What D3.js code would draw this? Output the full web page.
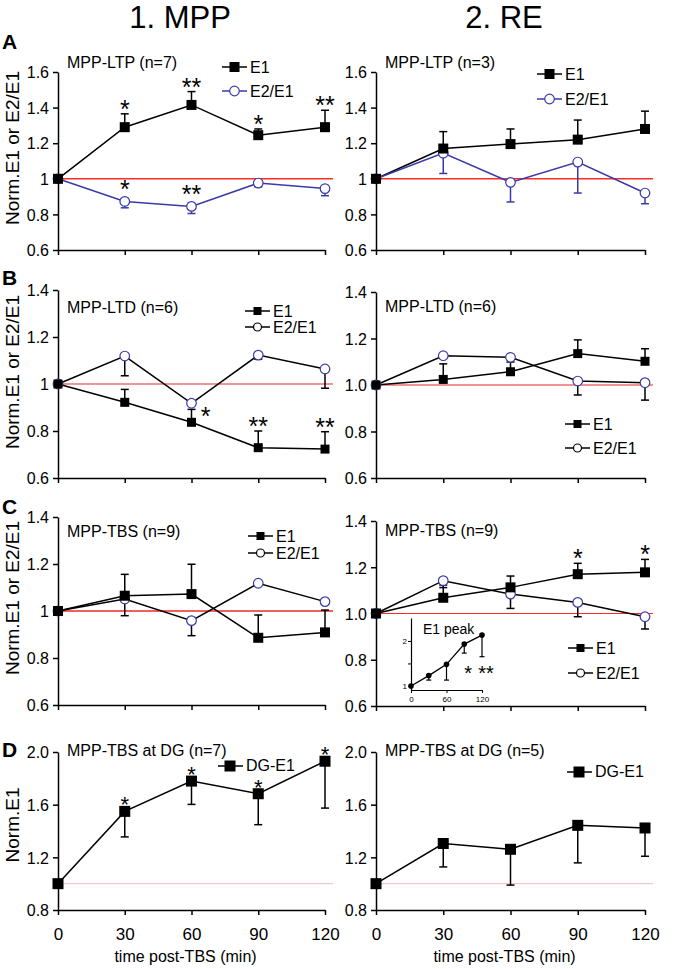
<!DOCTYPE html>
<html><head><meta charset="utf-8">
<script src="https://cdn.jsdelivr.net/npm/d3@7"></script>
<style>
body{margin:0;background:#fff}
svg{display:block}
text{font-family:"Liberation Sans",Arial,Helvetica,sans-serif;fill:#000}
</style>
</head><body>
<svg id="chart" width="685" height="969"></svg>
<script>
// ---------------- DATA ----------------
const times = [0, 30, 60, 90, 120];
const xTickLabels = ["0", "30", "60", "90", "120"];
const columnHeaders = ["1. MPP", "2. RE"];
const panelLetters = ["A", "B", "C", "D"];

// Panel A (MPP-LTP)
const A1_title = "MPP-LTP (n=7)";
const A1_E1 = [1, 1.29, 1.415, 1.245, 1.29];
const A1_E1_err = [0, 0.075, 0.075, 0.035, 0.095];
const A1_E1_sig = ["", "*", "**", "*", "**"];
const A1_E2 = [1, 0.873, 0.845, 0.976, 0.945];
const A1_E2_err = [0, 0.036, 0.04, 0.021, 0.04];
const A1_E2_sig = ["", "*", "**", "", ""];
const A2_title = "MPP-LTP (n=3)";
const A2_E1 = [1, 1.17, 1.195, 1.22, 1.28];
const A2_E1_err = [0, 0.095, 0.085, 0.11, 0.1];
const A2_E2 = [1, 1.144, 0.98, 1.094, 0.92];
const A2_E2_err = [0, 0.114, 0.11, 0.174, 0.06];
const A_yTicks = [0.6, 0.8, 1.0, 1.2, 1.4, 1.6];
const A_yTickLabels = ["0.6", "0.8", "1", "1.2", "1.4", "1.6"];

// Panel B (MPP-LTD)
const B1_title = "MPP-LTD (n=6)";
const B1_E1 = [1, 0.922, 0.837, 0.729, 0.723];
const B1_E1_err = [0, 0.055, 0.055, 0.071, 0.074];
const B1_E1_sig = ["", "", "*", "**", "**"];
const B1_E2 = [1, 1.119, 0.918, 1.123, 1.064];
const B1_E2_err = [0, 0.084, 0, 0.018, 0.082];
const B2_title = "MPP-LTD (n=6)";
const B2_E1 = [1, 1.024, 1.057, 1.135, 1.102];
const B2_E1_err = [0, 0.067, 0.059, 0.059, 0.054];
const B2_E2 = [1, 1.126, 1.119, 1.017, 1.01];
const B2_E2_err = [0, 0, 0.02, 0.06, 0.075];
const BC_yTicks = [0.6, 0.8, 1.0, 1.2, 1.4];
const BC1_yTickLabels = ["0.6", "0.8", "1", "1.2", "1.4"];
const BC2_yTickLabels = ["0.6", "0.8", "1.0", "1.2", "1.4"];

// Panel C (MPP-TBS)
const C1_title = "MPP-TBS (n=9)";
const C1_E1 = [1, 1.065, 1.072, 0.886, 0.909];
const C1_E1_err = [0, 0.091, 0.127, 0.097, 0.095];
const C1_E2 = [1, 1.051, 0.959, 1.118, 1.04];
const C1_E2_err = [0, 0.071, 0.064, 0, 0];
const C2_title = "MPP-TBS (n=9)";
const C2_E1 = [1, 1.068, 1.113, 1.17, 1.178];
const C2_E1_err = [0, 0.055, 0.049, 0.047, 0.056];
const C2_E1_sig = ["", "", "", "*", "*"];
const C2_E2 = [1, 1.142, 1.084, 1.048, 0.986];
const C2_E2_err = [0, 0.03, 0.062, 0.062, 0.053];
// inset: E1 peak
const inset_title = "E1 peak";
const inset_E1 = [1, 1.23, 1.48, 1.93, 2.13];
const inset_E1_err = [0, 0.1, 0.35, 0.2, 0.48];
const inset_sig = ["", "", "", "*", "**"];
const inset_xTicks = [0, 60, 120];
const inset_yTicks = [1, 1.5, 2];
const inset_yTickLabels = ["1", "", "2"];

// Panel D (MPP-TBS at DG)
const D1_title = "MPP-TBS at DG (n=7)";
const D1_E1 = [1, 1.549, 1.779, 1.683, 1.93];
const D1_E1_err = [0, 0.194, 0.177, 0.235, 0.356];
const D1_E1_sig = ["", "*", "*", "*", "*"];
const D2_title = "MPP-TBS at DG (n=5)";
const D2_E1 = [1, 1.305, 1.261, 1.443, 1.423];
const D2_E1_err = [0, 0.178, 0.272, 0.285, 0.215];
const D_yTicks = [0.8, 1.2, 1.6, 2.0];
const D_yTickLabels = ["0.8", "1.2", "1.6", "2.0"];

const seriesNames = ["E1", "E2/E1", "DG-E1"];
const yLabelMain = "Norm.E1 or E2/E1";
const yLabelD = "Norm.E1";
const xLabel = "time post-TBS (min)";

// ---------------- STYLE / LAYOUT ----------------
const BLUE = "#3a3aa8";
const svg = d3.select("#chart");

const LEFT = [58, 325], RIGHT = [376, 645];

const panels = [
  {xr: LEFT, dom: [0.6, 1.6], yr: [250, 72], ticks: A_yTicks, tl: A_yTickLabels, title: A1_title, tY: 68,
   ref: {c: "#ff2a2a", w: 1.4}, sq: 10,
   series: [
     {v: A1_E1, e: A1_E1_err, dir: 1, type: "sq", line: "#000", sig: A1_E1_sig},
     {v: A1_E2, e: A1_E2_err, dir: -1, type: "ci", line: BLUE, sig: A1_E2_sig}],
   legend: {x: 222, y: 67, dy: 24, blueLegend: true}},
  {xr: RIGHT, dom: [0.6, 1.6], yr: [250, 72], ticks: A_yTicks, tl: A_yTickLabels, title: A2_title, tY: 68,
   ref: {c: "#ff2a2a", w: 1.4}, sq: 10,
   series: [
     {v: A2_E1, e: A2_E1_err, dir: 1, type: "sq", line: "#000"},
     {v: A2_E2, e: A2_E2_err, dir: -1, type: "ci", line: BLUE}],
   legend: {x: 537, y: 74, dy: 25, blueLegend: true}},
  {xr: LEFT, dom: [0.6, 1.4], yr: [478, 290], ticks: BC_yTicks, tl: BC1_yTickLabels, title: B1_title, tY: 313,
   ref: {c: "#f29494", w: 2}, sq: 9,
   series: [
     {v: B1_E1, e: B1_E1_err, dir: 1, type: "sq", line: "#000", sig: B1_E1_sig, sigDx: [0, 0, 14, 0, 0], sigDy: [0, 0, 12, 0, 0]},
     {v: B1_E2, e: B1_E2_err, dir: -1, type: "ci", line: "#000"}],
   legend: {x: 245, y: 311, dy: 16, small: true}},
  {xr: RIGHT, dom: [0.6, 1.4], yr: [478, 292], ticks: BC_yTicks, tl: BC2_yTickLabels, title: B2_title, tY: 312,
   ref: {c: "#f29494", w: 2}, sq: 9,
   series: [
     {v: B2_E1, e: B2_E1_err, dir: 1, type: "sq", line: "#000"},
     {v: B2_E2, e: B2_E2_err, dir: -1, type: "ci", line: "#000"}],
   legend: {x: 565, y: 424, dy: 24, small: true}},
  {xr: LEFT, dom: [0.6, 1.4], yr: [705, 517], ticks: BC_yTicks, tl: BC1_yTickLabels, title: C1_title, tY: 537,
   ref: {c: "#ee2a2a", w: 1.4}, sq: 10,
   series: [
     {v: C1_E1, e: C1_E1_err, dir: 1, type: "sq", line: "#000"},
     {v: C1_E2, e: C1_E2_err, dir: -1, type: "ci", line: "#000"}],
   legend: {x: 248, y: 536, dy: 17, small: true}},
  {xr: RIGHT, dom: [0.6, 1.4], yr: [706, 521], ticks: BC_yTicks, tl: BC2_yTickLabels, title: C2_title, tY: 536,
   ref: {c: "#ff2a2a", w: 1.2}, sq: 10,
   series: [
     {v: C2_E1, e: C2_E1_err, dir: 1, type: "sq", line: "#000", sig: C2_E1_sig},
     {v: C2_E2, e: C2_E2_err, dir: -1, type: "ci", line: "#000"}],
   legend: {x: 568, y: 648, dy: 25, small: true}, inset: true},
  {xr: LEFT, dom: [0.8, 2.0], yr: [910, 752], ticks: D_yTicks, tl: D_yTickLabels, title: D1_title, tY: 756,
   ref: {c: "#f3b9b9", w: 1}, sq: 11, xAxisLabels: true, starSize: 22,
   series: [
     {v: D1_E1, e: D1_E1_err, dir: -1, type: "sq", line: "#000", sig: D1_E1_sig, sigAboveMarker: true}],
   legend: {x: 218, y: 766, dg: true}},
  {xr: RIGHT, dom: [0.8, 2.0], yr: [910, 752], ticks: D_yTicks, tl: D_yTickLabels, title: D2_title, tY: 756,
   ref: {c: "#f3b9b9", w: 1}, sq: 11, xAxisLabels: true,
   series: [
     {v: D2_E1, e: D2_E1_err, dir: -1, type: "sq", line: "#000"}],
   legend: {x: 567, y: 772, dg: true}}
];

function marker(g, type, cx, cy, size, stroke) {
  if (type === "sq") {
    g.append("rect").attr("x", cx - size / 2).attr("y", cy - size / 2)
      .attr("width", size).attr("height", size).attr("fill", "#000");
  } else {
    g.append("circle").attr("cx", cx).attr("cy", cy).attr("r", size)
      .attr("fill", "#fff").attr("stroke", stroke).attr("stroke-width", 1.2);
  }
}

function drawPanel(p) {
  const g = svg.append("g");
  const x = d3.scaleLinear().domain([0, 120]).range(p.xr);
  const y = d3.scaleLinear().domain(p.dom).range(p.yr);

  // reference line at 1.0
  g.append("line").attr("x1", p.xr[0]).attr("x2", p.xr[1] + 8)
    .attr("y1", y(1)).attr("y2", y(1)).attr("stroke", p.ref.c).attr("stroke-width", p.ref.w);

  // axes
  const yAxis = d3.axisLeft(y).tickValues(p.ticks).tickFormat((d, i) => p.tl[i]).tickSize(5).tickSizeOuter(0);
  const ya = g.append("g").attr("transform", `translate(${p.xr[0]},0)`).call(yAxis);
  ya.selectAll("text").style("font-size", "16px").attr("x", -9).attr("dy", "0.36em");
  const xAxis = d3.axisBottom(x).tickValues(times).tickFormat((d, i) => p.xAxisLabels ? xTickLabels[i] : "")
    .tickSize(5).tickSizeOuter(0);
  const xa = g.append("g").attr("transform", `translate(0,${p.yr[0]})`).call(xAxis);
  xa.selectAll("text").style("font-size", "17px").attr("y", 18);
  [ya, xa].forEach(a => {
    a.select(".domain").attr("stroke", "#000").attr("stroke-width", 1.5);
    a.selectAll(".tick line").attr("stroke", "#000").attr("stroke-width", 1.5);
    a.selectAll("text").style("font-family", '"Liberation Sans",Arial,sans-serif').attr("fill", "#000");
  });

  // title
  g.append("text").attr("x", p.xr[0] + 9).attr("y", p.tY).style("font-size", "16px").text(p.title);

  // series: error bars first, then lines, then markers
  p.series.forEach(s => {
    const col = s.type === "ci" && s.line === BLUE ? BLUE : "#000";
    s.v.forEach((v, i) => {
      if (!s.e[i]) return;
      const end = v + s.dir * s.e[i];
      g.append("line").attr("x1", x(times[i])).attr("x2", x(times[i]))
        .attr("y1", y(v)).attr("y2", y(end)).attr("stroke", col).attr("stroke-width", 1.5);
      g.append("line").attr("x1", x(times[i]) - 4).attr("x2", x(times[i]) + 4)
        .attr("y1", y(end)).attr("y2", y(end)).attr("stroke", col).attr("stroke-width", 1.5);
    });
  });
  p.series.forEach(s => {
    const line = d3.line().x((d, i) => x(times[i])).y(d => y(d));
    g.append("path").datum(s.v).attr("d", line).attr("fill", "none")
      .attr("stroke", s.line).attr("stroke-width", 1.5);
  });
  p.series.slice().reverse().forEach(s => {
    s.v.forEach((v, i) => {
      marker(g, s.type, x(times[i]), y(v), s.type === "sq" ? p.sq : 4.8, BLUE);
    });
  });
  // significance stars
  p.series.forEach(s => {
    if (!s.sig) return;
    s.sig.forEach((st, i) => {
      if (!st) return;
      let by;
      if (s.dir > 0) by = y(s.v[i] + s.e[i]) + 4;
      else if (s.sigAboveMarker) by = y(s.v[i]) + 1;
      else by = y(s.v[i]) - 3;
      const dx = s.sigDx ? s.sigDx[i] : 0, dy = s.sigDy ? s.sigDy[i] : 0;
      g.append("text").attr("x", x(times[i]) + dx).attr("y", by + dy)
        .attr("text-anchor", "middle").style("font-size", (p.starSize || 25) + "px").text(st);
    });
  });

  // legend
  const L = p.legend;
  if (L.dg) {
    g.append("line").attr("x1", L.x).attr("x2", L.x + 25).attr("y1", L.y).attr("y2", L.y)
      .attr("stroke", "#000").attr("stroke-width", 1.5);
    marker(g, "sq", L.x + 12, L.y, 11);
    g.append("text").attr("x", L.x + 28).attr("y", L.y + 5).style("font-size", "16px").text(seriesNames[2]);
  } else {
    const lc = L.blueLegend ? BLUE : "#000";
    g.append("line").attr("x1", L.x).attr("x2", L.x + 25).attr("y1", L.y).attr("y2", L.y)
      .attr("stroke", "#000").attr("stroke-width", 1.5);
    marker(g, "sq", L.x + 12.5, L.y, L.small ? 8 : 10);
    g.append("text").attr("x", L.x + 28).attr("y", L.y + 6).style("font-size", "16px").text(seriesNames[0]);
    g.append("line").attr("x1", L.x).attr("x2", L.x + 25).attr("y1", L.y + L.dy).attr("y2", L.y + L.dy)
      .attr("stroke", lc).attr("stroke-width", 1.5);
    marker(g, "ci", L.x + 12.5, L.y + L.dy, L.small ? 4 : 4.8, L.blueLegend ? BLUE : "#000");
    g.append("text").attr("x", L.x + 28).attr("y", L.y + L.dy + 6).style("font-size", "16px").text(seriesNames[1]);
  }

  if (p.inset) drawInset();
}

function drawInset() {
  const g = svg.append("g");
  const x = d3.scaleLinear().domain([0, 120]).range([411, 482]);
  const y = d3.scaleLinear().domain([0.91, 2.51]).range([690, 618]);
  const ya = g.append("g").attr("transform", "translate(411,0)")
    .call(d3.axisLeft(y).tickValues(inset_yTicks).tickFormat((d, i) => inset_yTickLabels[i]).tickSize(3).tickSizeOuter(0));
  const xa = g.append("g").attr("transform", "translate(0,690)")
    .call(d3.axisBottom(x).tickValues(inset_xTicks).tickFormat(d => d).tickSize(3).tickSizeOuter(0));
  [ya, xa].forEach(a => {
    a.select(".domain").attr("stroke", "#000").attr("stroke-width", 1.2);
    a.selectAll(".tick line").attr("stroke", "#000");
    a.selectAll("text").style("font-size", "8px").style("font-family", '"Liberation Sans",Arial,sans-serif').attr("fill", "#000");
  });
  xa.selectAll("text").attr("y", 6);
  ya.selectAll("text").attr("x", -4);
  inset_E1.forEach((v, i) => {
    if (!inset_E1_err[i]) return;
    const e = v - inset_E1_err[i];
    g.append("line").attr("x1", x(times[i])).attr("x2", x(times[i])).attr("y1", y(v)).attr("y2", y(e))
      .attr("stroke", "#000").attr("stroke-width", 1.2);
    g.append("line").attr("x1", x(times[i]) - 2.5).attr("x2", x(times[i]) + 2.5).attr("y1", y(e)).attr("y2", y(e))
      .attr("stroke", "#000").attr("stroke-width", 1.2);
  });
  g.append("path").datum(inset_E1).attr("d", d3.line().x((d, i) => x(times[i])).y(d => y(d)))
    .attr("fill", "none").attr("stroke", "#000").attr("stroke-width", 1.3);
  inset_E1.forEach((v, i) => g.append("circle").attr("cx", x(times[i])).attr("cy", y(v)).attr("r", 2.8).attr("fill", "#000"));
  inset_sig.forEach((s, i) => {
    if (!s) return;
    g.append("text").attr("x", x(times[i]) + 4).attr("y", 680).attr("text-anchor", "middle")
      .style("font-size", "20px").text(s);
  });
  g.append("text").attr("x", 423).attr("y", 634).style("font-size", "14px")
    .style("font-family", '"Liberation Sans Narrow","Liberation Sans",Arial,sans-serif').text(inset_title);
}

panels.forEach(drawPanel);

// headers
const hdrX = [180, 504];
columnHeaders.forEach((h, i) => {
  svg.append("text").attr("x", hdrX[i]).attr("y", 28).attr("text-anchor", "middle")
    .style("font-size", "31px").style("font-family", '"Liberation Sans Narrow","Arial Narrow","Liberation Sans",sans-serif').text(h);
});
// panel letters
const letterY = [49, 285, 514, 757];
panelLetters.forEach((l, i) => {
  svg.append("text").attr("x", 2).attr("y", letterY[i]).style("font-size", "21px").style("font-weight", "bold").text(l);
});
// y labels
[[yLabelMain, 148], [yLabelMain, 372], [yLabelMain, 598], [yLabelD, 825]].forEach(([t, cy]) => {
  svg.append("text").attr("transform", `translate(19,${cy}) rotate(-90)`).attr("text-anchor", "middle")
    .style("font-size", "19px").text(t);
});
// x labels
[LEFT, RIGHT].forEach(r => {
  svg.append("text").attr("x", (r[0] + r[1]) / 2 - 6).attr("y", 962).attr("text-anchor", "middle")
    .style("font-size", "16px").text(xLabel);
});
</script>
</body></html>
